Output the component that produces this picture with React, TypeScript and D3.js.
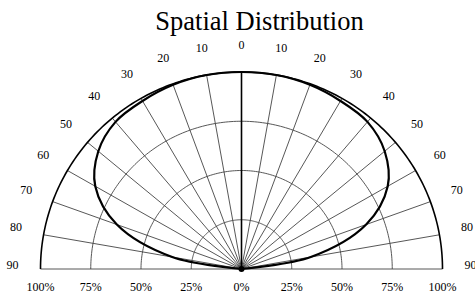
import React from 'react';
import * as d3 from 'd3';

const angles = [0, 10, 20, 30, 40, 50, 60, 70, 80, 90];
const intensity = [100, 100, 99.5, 98.5, 97.5, 93, 84, 66, 35, 0];
const rings = [25, 50, 75, 100];
const ringLabels = ['0%', '25%', '50%', '75%', '100%'];
const title = 'Spatial Distribution';

const W = 475, H = 294;
const cx = 241.5, cy = 269;

export default function App() {
    // the plot is a tiny bit squashed vertically, so two radius scales
    const rx = d3.scaleLinear().domain([0, 100]).range([0, 201]);
    const ry = d3.scaleLinear().domain([0, 100]).range([0, 197]);
    const rad = (deg: number) => deg * Math.PI / 180;

    // deg measured from vertical, negative = left side
    const pt = (deg: number, v: number): [number, number] =>
        [cx + rx(v) * Math.sin(rad(deg)), cy - ry(v) * Math.cos(rad(deg))];

    const arcPath = (v: number) => {
        const p = d3.path();
        const steps = d3.range(-90, 90.5, 1);
        steps.forEach((a, i) => {
            const [x, y] = pt(a, v);
            if (i === 0) p.moveTo(x, y); else p.lineTo(x, y);
        });
        return p.toString();
    };

    // mirror the series onto the left side
    const curvePts: [number, number][] = [];
    for (let i = angles.length - 1; i >= 0; i--) curvePts.push(pt(-angles[i], intensity[i]));
    for (let i = 1; i < angles.length; i++) curvePts.push(pt(angles[i], intensity[i]));
    const curveLine = d3.line().curve(d3.curveCatmullRom.alpha(0.5))(curvePts);

    const spokes = d3.range(-90, 91, 10);
    const labelPos = (deg: number): [number, number] =>
        [cx + 229 * Math.sin(rad(deg)), 265 - 220 * Math.cos(rad(deg)) + 4];

    return (
        <svg width={W} height={H} style={{position: 'absolute', left: 0, top: 0}}
             fontFamily="'Liberation Serif', 'Times New Roman', serif">
            <rect width={W} height={H} fill="#fff" />
            <text x={259.5} y={30} fontSize={26.5} textAnchor="middle" fill="#000">{title}</text>

            {rings.slice(0, -1).map(r => (
                <path key={r} d={arcPath(r)} fill="none" stroke="#444" strokeWidth={0.9} />
            ))}
            {spokes.filter(a => a !== 0).map(a => {
                const [x, y] = pt(a, 100);
                return <line key={a} x1={cx} y1={cy} x2={x} y2={y} stroke="#444" strokeWidth={0.9} />;
            })}
            <line x1={cx} y1={cy} x2={pt(0, 100)[0]} y2={pt(0, 100)[1]} stroke="#000" strokeWidth={1.6} />
            <path d={arcPath(100)} fill="none" stroke="#000" strokeWidth={1.6} />

            <path d={curveLine || ''} fill="none" stroke="#000" strokeWidth={2.2} />
            <circle cx={cx} cy={cy} r={3} fill="#000" />

            {spokes.map(a => {
                const [x, y] = labelPos(a);
                return <text key={a} x={x} y={y} fontSize={12} textAnchor="middle" fill="#000">{Math.abs(a)}</text>;
            })}

            {ringLabels.map((t, i) => {
                const v = i * 25;
                return (
                    <g key={t}>
                        <text x={cx - rx(v)} y={291} fontSize={12} textAnchor="middle" fill="#000">{t}</text>
                        {v > 0 && <text x={cx + rx(v)} y={291} fontSize={12} textAnchor="middle" fill="#000">{t}</text>}
                    </g>
                );
            })}
        </svg>
    );
}
